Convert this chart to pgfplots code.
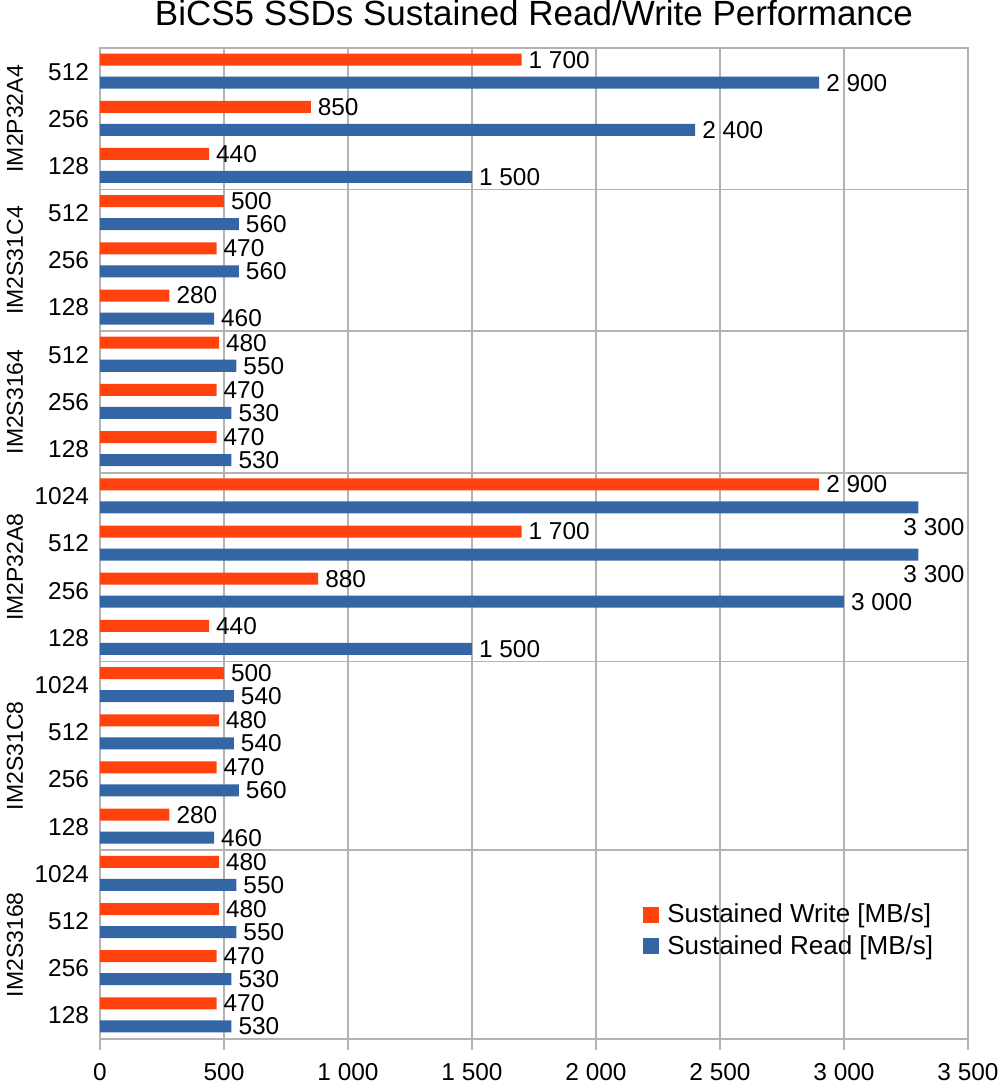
\documentclass[border=0pt]{standalone}
\usepackage{fontspec}
\setmainfont{Liberation Sans}
\usepackage{pgfplots}
\usepackage{pgfplotstable}
\pgfplotsset{compat=1.18}

\definecolor{wcol}{HTML}{FF420E}
\definecolor{rcol}{HTML}{3465A4}
\definecolor{gridc}{HTML}{B3B3B3}

% rows from top to bottom
\pgfplotstableread{
row W R
1 1700 2900
2 850 2400
3 440 1500
4 500 560
5 470 560
6 280 460
7 480 550
8 470 530
9 470 530
10 2900 3300
11 1700 3300
12 880 3000
13 440 1500
14 500 540
15 480 540
16 470 560
17 280 460
18 480 550
19 480 550
20 470 530
21 470 530
}\perf

\begin{document}
\begin{tikzpicture}
\begin{axis}[
  at={(0,0)}, anchor=south west,
  scale only axis, width=434pt, height=495.5pt,
  clip=false,
  xbar, bar width=6pt,
  xmin=0, xmax=3500, xtick={0,500,...,3500},
  ymin=0.5, ymax=21.5, y dir=reverse,
  ytick={1,...,21},
  yticklabels={512,256,128,512,256,128,512,256,128,1024,512,256,128,1024,512,256,128,1024,512,256,128},
  xmajorgrids,
  major grid style={gridc, line width=0.8pt},
  axis line style={gridc, line width=0.8pt},
  tick align=outside,
  xtick pos=bottom, ytick pos=left,
  major tick length=5.5pt,
  xtick style={gridc, line width=0.8pt},
  ytick style={draw=none},
  extra y ticks={3.5,6.5,9.5,13.5,17.5},
  extra y tick labels={},
  extra y tick style={ymajorgrids=true, tick style={draw=none}},
  tick label style={font=\fontsize{12.2}{14}\selectfont},
  yticklabel style={xshift=3.5pt},
  xticklabel style={yshift=-3pt},
  /pgf/number format/1000 sep={\ },
  /pgf/number format/assume math mode=true,
  title={BiCS5 SSDs Sustained Read/Write Performance},
  title style={font=\fontsize{17.5}{21}\selectfont, at={(0.5,1)}, anchor=base, yshift=5.5pt},
  nodes near coords,
  nodes near coords align={horizontal},
  every node near coord/.append style={font=\fontsize{12.2}{14}\selectfont, black, anchor=west},
  legend image code/.code={\fill[#1] (0pt,-4pt) rectangle (8pt,4pt); \path (10pt,0pt);},
  legend style={at={(0.6185,0.145)}, anchor=north west, draw=none, fill=none,
    font=\fontsize{13}{15}\selectfont, row sep=1pt},
  legend cell align=left,
]
\addplot[draw=none, fill=wcol, bar shift=6pt] table[x=W, y=row] {\perf};
\addlegendentry{Sustained Write [MB/s]}
\addplot[draw=none, fill=rcol, bar shift=-5.5pt,
  skip coords between index={9}{11}] table[x=R, y=row] {\perf};
\addlegendentry{Sustained Read [MB/s]}
% the two 3 300 bars carry their labels below the bar end
\addplot[draw=none, fill=rcol, bar shift=-5.5pt, forget plot,
  skip coords between index={0}{9}, skip coords between index={11}{21},
  every node near coord/.append style={anchor=north west, xshift=-11pt, yshift=-2pt}]
  table[x=R, y=row] {\perf};

% model names, 42.5pt left of the axis (343 data units)
\begin{scope}[every node/.style={rotate=90, font=\fontsize{11.5}{14}\selectfont}]
\node at (axis cs:-343,2) {IM2P32A4};
\node at (axis cs:-343,5) {IM2S31C4};
\node at (axis cs:-343,8) {IM2S3164};
\node at (axis cs:-343,11.5) {IM2P32A8};
\node at (axis cs:-343,15.5) {IM2S31C8};
\node at (axis cs:-343,19.5) {IM2S3168};
\end{scope}
\end{axis}
\pgfresetboundingbox
\path[use as bounding box] (-50pt,-22pt) rectangle (450pt,519.5pt);
\end{tikzpicture}
\end{document}
